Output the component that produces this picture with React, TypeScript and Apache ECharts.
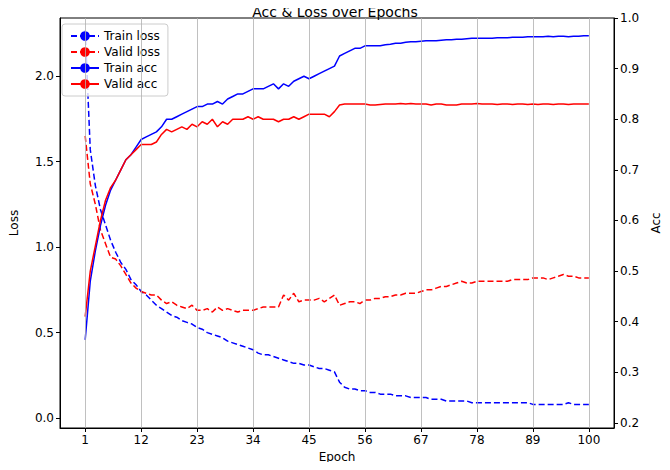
import React, { useEffect, useRef } from 'react';
import * as echarts from 'echarts';

const epochs = Array.from({ length: 100 }, (_, i) => i + 1);
const xTicks = [1, 12, 23, 34, 45, 56, 67, 78, 89, 100];
const lossTicks = [0, 0.5, 1.0, 1.5, 2.0];
const accTicks = [0.2, 0.3, 0.4, 0.5, 0.6, 0.7, 0.8, 0.9, 1.0];

const trainLoss = [
  2.27, 1.57, 1.36, 1.22, 1.13, 1.04, 0.97, 0.91, 0.87, 0.81,
  0.78, 0.74, 0.72, 0.69, 0.66, 0.64, 0.62, 0.6, 0.59, 0.57,
  0.56, 0.55, 0.53, 0.52, 0.5, 0.49, 0.48, 0.47, 0.45, 0.44,
  0.43, 0.42, 0.41, 0.4, 0.38, 0.37, 0.37, 0.36, 0.35, 0.34,
  0.33, 0.32, 0.32, 0.31, 0.31, 0.3, 0.29, 0.29, 0.28, 0.27,
  0.21, 0.18, 0.17, 0.17, 0.16, 0.16, 0.15, 0.15, 0.14, 0.14,
  0.14, 0.13, 0.13, 0.13, 0.12, 0.12, 0.12, 0.12, 0.11, 0.11,
  0.11, 0.1, 0.1, 0.1, 0.1, 0.1, 0.09, 0.09, 0.09, 0.09,
  0.09, 0.09, 0.09, 0.09, 0.09, 0.09, 0.09, 0.09, 0.08, 0.08,
  0.08, 0.08, 0.08, 0.08, 0.08, 0.09, 0.08, 0.08, 0.08, 0.08,
];

const validLoss = [
  1.65, 1.37, 1.25, 1.1, 1.02, 0.94, 0.93, 0.89, 0.84, 0.79,
  0.76, 0.74, 0.73, 0.72, 0.72, 0.69, 0.67, 0.68, 0.66, 0.65,
  0.64, 0.66, 0.63, 0.63, 0.64, 0.62, 0.65, 0.63, 0.64, 0.63,
  0.62, 0.63, 0.63, 0.63, 0.64, 0.65, 0.65, 0.65, 0.65, 0.72,
  0.69, 0.73, 0.68, 0.69, 0.69, 0.69, 0.7, 0.68, 0.7, 0.72,
  0.66, 0.67, 0.68, 0.68, 0.67, 0.69, 0.69, 0.7, 0.7, 0.71,
  0.71, 0.72, 0.72, 0.73, 0.73, 0.73, 0.74, 0.75, 0.75, 0.76,
  0.77, 0.77, 0.78, 0.79, 0.8, 0.79, 0.79, 0.8, 0.8, 0.8,
  0.8, 0.8, 0.8, 0.8, 0.81, 0.81, 0.81, 0.81, 0.82, 0.82,
  0.82, 0.81, 0.82, 0.83, 0.84, 0.83, 0.83, 0.82, 0.82, 0.82,
];

const trainAcc = [
  0.364, 0.48, 0.54, 0.59, 0.63, 0.66, 0.68, 0.7, 0.72, 0.73,
  0.745, 0.76, 0.765, 0.77, 0.775, 0.785, 0.8, 0.8, 0.805, 0.81,
  0.815, 0.82, 0.825, 0.825, 0.83, 0.83, 0.835, 0.83, 0.84, 0.845,
  0.85, 0.85, 0.855, 0.86, 0.86, 0.86, 0.865, 0.87, 0.86, 0.87,
  0.865, 0.875, 0.88, 0.885, 0.88, 0.885, 0.89, 0.895, 0.9, 0.905,
  0.925, 0.93, 0.935, 0.94, 0.94, 0.945, 0.945, 0.945, 0.945, 0.947,
  0.948, 0.95, 0.95, 0.952, 0.953, 0.953, 0.954, 0.955, 0.955, 0.955,
  0.956, 0.957, 0.957, 0.958, 0.958, 0.959, 0.96, 0.96, 0.96, 0.96,
  0.96, 0.961, 0.961, 0.961, 0.962, 0.962, 0.962, 0.963, 0.963, 0.963,
  0.963, 0.964, 0.963, 0.964, 0.964, 0.963, 0.964, 0.964, 0.965, 0.965,
];

const validAcc = [
  0.41, 0.5, 0.55, 0.6, 0.64, 0.665, 0.68, 0.7, 0.72, 0.73,
  0.74, 0.75, 0.75, 0.75, 0.755, 0.77, 0.78, 0.775, 0.78, 0.785,
  0.78, 0.79, 0.785, 0.795, 0.79, 0.8, 0.785, 0.795, 0.79, 0.8,
  0.8, 0.8, 0.805, 0.8, 0.805, 0.8, 0.8, 0.8, 0.795, 0.8,
  0.8, 0.805, 0.8, 0.805, 0.81, 0.81, 0.81, 0.81, 0.805, 0.815,
  0.828, 0.83, 0.83, 0.83, 0.83, 0.83, 0.828, 0.828, 0.829, 0.83,
  0.83, 0.83, 0.831, 0.83, 0.831, 0.83, 0.83, 0.83, 0.828, 0.83,
  0.83, 0.828, 0.828, 0.828, 0.83, 0.83, 0.83, 0.831, 0.83, 0.83,
  0.83, 0.829, 0.83, 0.83, 0.829, 0.83, 0.83, 0.829, 0.83, 0.829,
  0.83, 0.83, 0.829, 0.83, 0.83, 0.829, 0.83, 0.83, 0.83, 0.83,
];

const font = 'DejaVu Sans';

export default function App() {
  const ref = useRef<HTMLDivElement>(null);

  useEffect(() => {
    if (!ref.current) return;
    const chart = echarts.init(ref.current, undefined, { renderer: 'svg' });
    const pairs = (arr: number[]) => arr.map((v, i) => [epochs[i], v]);
    const axisCommon = {
      axisLine: { show: true, onZero: false, lineStyle: { color: '#000' } },
      axisTick: { show: true, lineStyle: { color: '#000' }, length: 4 },
      splitLine: { show: false },
      nameTextStyle: { color: '#000', fontFamily: font, fontSize: 12 },
    };
    const line = (name: string, data: number[], axis: number, color: string, dashed: boolean) => ({
      name, type: 'line', yAxisIndex: axis, data: pairs(data), symbol: 'none',
      lineStyle: { color, width: 1.5, type: dashed ? [6, 3] : 'solid' }, itemStyle: { color },
    });
    chart.setOption({
      animation: false,
      textStyle: { fontFamily: font },
      title: {
        text: 'Acc & Loss over Epochs',
        left: 'center',
        top: 0,
        textStyle: { fontFamily: font, fontSize: 14, fontWeight: 'normal', color: '#000' },
      },
      legend: {
        orient: 'vertical',
        left: 62,
        top: 24,
        itemGap: 4,
        itemWidth: 28,
        itemHeight: 12,
        padding: [6, 8],
        borderColor: '#ccc',
        borderWidth: 1,
        borderRadius: 3,
        backgroundColor: 'rgba(255,255,255,0.8)',
        textStyle: { fontFamily: font, fontSize: 12, color: '#000' },
        data: ['Train loss', 'Valid loss', 'Train acc', 'Valid acc'],
      },
      grid: { left: 58, right: 50, top: 18, bottom: 42, show: true, borderColor: '#000', borderWidth: 1 },
      xAxis: {
        type: 'value',
        min: -3.95,
        max: 104.95,
        name: 'Epoch',
        nameLocation: 'middle',
        nameGap: 21,
        ...axisCommon,
        axisTick: { ...axisCommon.axisTick, customValues: xTicks },
        axisLabel: { customValues: xTicks, color: '#000', fontFamily: font, fontSize: 12, margin: 6 },
      },
      yAxis: [
        {
          type: 'value',
          min: -0.058,
          max: 2.34,
          name: 'Loss',
          nameLocation: 'middle',
          nameGap: 40,
          ...axisCommon,
          axisTick: { ...axisCommon.axisTick, customValues: lossTicks },
          axisLabel: {
            customValues: lossTicks,
            formatter: (v: number) => v.toFixed(1),
            color: '#000', fontFamily: font, fontSize: 12, margin: 6,
          },
        },
        {
          type: 'value',
          min: 0.19,
          max: 1.0,
          name: 'Acc',
          nameLocation: 'middle',
          nameGap: 34,
          position: 'right',
          ...axisCommon,
          axisTick: { ...axisCommon.axisTick, customValues: accTicks },
          axisLabel: {
            customValues: accTicks,
            formatter: (v: number) => v.toFixed(1),
            color: '#000', fontFamily: font, fontSize: 12, margin: 6,
          },
        },
      ],
      series: [
        {
          ...line('Train loss', trainLoss, 0, '#0000ff', true),
          markLine: {
            silent: true, symbol: 'none', label: { show: false },
            lineStyle: { color: '#b0b0b0', type: 'solid', width: 0.8 },
            data: xTicks.map((t) => ({ xAxis: t })),
          },
        },
        line('Valid loss', validLoss, 0, '#ff0000', true),
        line('Train acc', trainAcc, 1, '#0000ff', false),
        line('Valid acc', validAcc, 1, '#ff0000', false),
      ],
    });
    return () => chart.dispose();
  }, []);

  return <div ref={ref} style={{ width: 670, height: 470, margin: -8 }} />;
}
